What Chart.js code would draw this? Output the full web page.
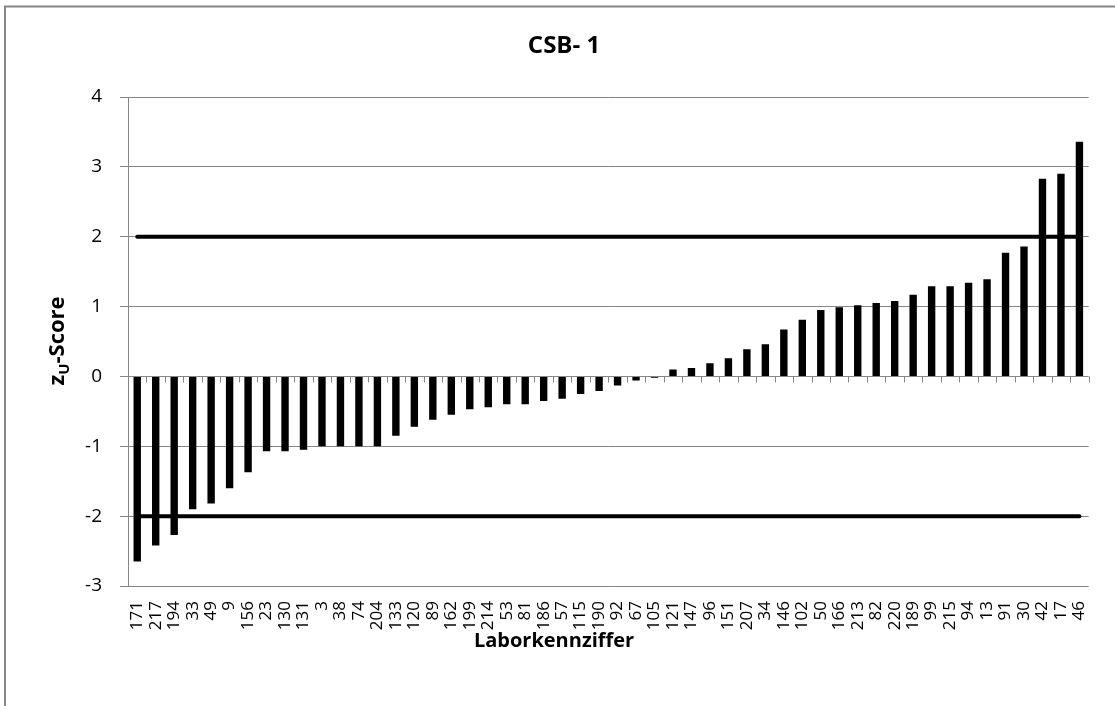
<!DOCTYPE html>
<html>
<head>
<meta charset="utf-8">
<title>CSB- 1</title>
<script src="https://cdn.jsdelivr.net/npm/chart.js@4.4.1/dist/chart.umd.min.js"></script>
<style>
  html, body { margin: 0; padding: 0; background: #fff; }
  canvas { display: block; }
</style>
</head>
<body>
<canvas id="zChart" width="1115" height="706"></canvas>
<script>
// Labornummern (sortiert nach z-Score)
const labCodes = ['171', '217', '194', '33', '49', '9', '156', '23', '130', '131', '3', '38', '74',
    '204', '133', '120', '89', '162', '199', '214', '53', '81', '186', '57', '115', '190', '92',
    '67', '105', '121', '147', '96', '151', '207', '34', '146', '102', '50', '166', '213', '82',
    '220', '189', '99', '215', '94', '13', '91', '30', '42', '17', '46'];

// zU-Score je Labor
const zScores = [-2.65, -2.42, -2.27, -1.90, -1.82, -1.60, -1.37, -1.07, -1.07, -1.05, -1.00, -1.00, -1.00,
    -1.00, -0.85, -0.72, -0.62, -0.55, -0.47, -0.44, -0.40, -0.40, -0.35, -0.32, -0.25, -0.21, -0.13,
    -0.06, -0.02, 0.10, 0.12, 0.19, 0.26, 0.39, 0.46, 0.67, 0.81, 0.95, 0.99, 1.02, 1.05,
    1.08, 1.17, 1.29, 1.29, 1.34, 1.39, 1.77, 1.86, 2.83, 2.90, 3.36];

// Grenzen |z| = 2
const upperLimit = 2;
const lowerLimit = -2;

// Achsenbereich
const yMin = -3;
const yMax = 4;

const gridGray = '#868686';
const fontFamily = '"Open Sans", "Liberation Sans", sans-serif';

// Rahmen, Titel und kleine Striche an der Nulllinie
const decorPlugin = {
    id: 'decor',
    beforeDatasetsDraw(chart) {
        const ctx = chart.ctx;
        const x = chart.scales.x;
        const y = chart.scales.y;
        const y0 = y.getPixelForValue(0);
        const step = (x.right - x.left) / labCodes.length;
        ctx.save();
        ctx.strokeStyle = gridGray;
        ctx.lineWidth = 1;
        ctx.beginPath();
        for (let i = 0; i <= labCodes.length; i++) {
            const px = Math.round(x.left + i * step) + 0.5;
            ctx.moveTo(px, y0);
            ctx.lineTo(px, y0 + 6);
        }
        ctx.stroke();
        ctx.restore();
    },
    afterDraw(chart) {
        const ctx = chart.ctx;
        ctx.save();

        // Rahmen (nur oben und links sichtbar)
        ctx.strokeStyle = gridGray;
        ctx.lineWidth = 2;
        ctx.beginPath();
        ctx.moveTo(5, 720);
        ctx.lineTo(5, 6.5);
        ctx.lineTo(1130, 6.5);
        ctx.stroke();

        ctx.fillStyle = '#000';
        ctx.textAlign = 'center';
        ctx.textBaseline = 'middle';

        // Titel
        ctx.font = 'bold 24px ' + fontFamily;
        ctx.fillText('CSB- 1', 564, 46);

        // x-Achsentitel
        ctx.font = 'bold 20px ' + fontFamily;
        ctx.fillText('Laborkennziffer', 554, 641);

        // y-Achsentitel mit Index
        ctx.translate(57, 341);
        ctx.rotate(-Math.PI / 2);
        const big = 'bold 22px ' + fontFamily;
        const small = 'bold 15px ' + fontFamily;
        ctx.font = big;
        const wz = ctx.measureText('z').width;
        const wRest = ctx.measureText('-Score').width;
        ctx.font = small;
        const wU = ctx.measureText('U').width;
        let cx = -(wz + wU + wRest) / 2;
        ctx.textAlign = 'left';
        ctx.textBaseline = 'alphabetic';
        ctx.font = big;
        ctx.fillText('z', cx, 7);
        cx += wz;
        ctx.font = small;
        ctx.fillText('U', cx, 12);
        cx += wU;
        ctx.font = big;
        ctx.fillText('-Score', cx, 7);
        ctx.restore();
    }
};

const ctx = document.getElementById('zChart').getContext('2d');

new Chart(ctx, {
    type: 'bar',
    data: {
        labels: labCodes,
        datasets: [
            {
                type: 'line',
                data: labCodes.map(() => upperLimit),
                borderColor: '#000',
                borderWidth: 4,
                borderCapStyle: 'round',
                pointRadius: 0,
                order: 0
            },
            {
                type: 'line',
                data: labCodes.map(() => lowerLimit),
                borderColor: '#000',
                borderWidth: 4,
                borderCapStyle: 'round',
                pointRadius: 0,
                order: 0
            },
            {
                type: 'bar',
                data: zScores,
                backgroundColor: '#000',
                borderWidth: 0,
                categoryPercentage: 1.0,
                barPercentage: 0.4,
                order: 1
            }
        ]
    },
    options: {
        responsive: false,
        animation: false,
        layout: {
            padding: { left: 0, right: 18, top: 97, bottom: 0 }
        },
        plugins: {
            legend: { display: false },
            tooltip: { enabled: false },
            title: { display: false }
        },
        scales: {
            x: {
                grid: { display: false, drawTicks: false },
                border: { display: false },
                ticks: {
                    autoSkip: false,
                    minRotation: 90,
                    maxRotation: 90,
                    padding: 15,
                    color: '#000',
                    font: { family: fontFamily, size: 17 }
                },
                afterFit: (scale) => { scale.height = 120; }
            },
            y: {
                min: yMin,
                max: yMax,
                grid: {
                    color: gridGray,
                    lineWidth: 1,
                    tickLength: 8,
                    tickColor: gridGray
                },
                border: { color: gridGray, width: 1 },
                ticks: {
                    stepSize: 1,
                    padding: 18,
                    color: '#000',
                    font: { family: fontFamily, size: 19 }
                },
                afterFit: (scale) => { scale.width = 128; }
            }
        }
    },
    plugins: [decorPlugin]
});
</script>
</body>
</html>
